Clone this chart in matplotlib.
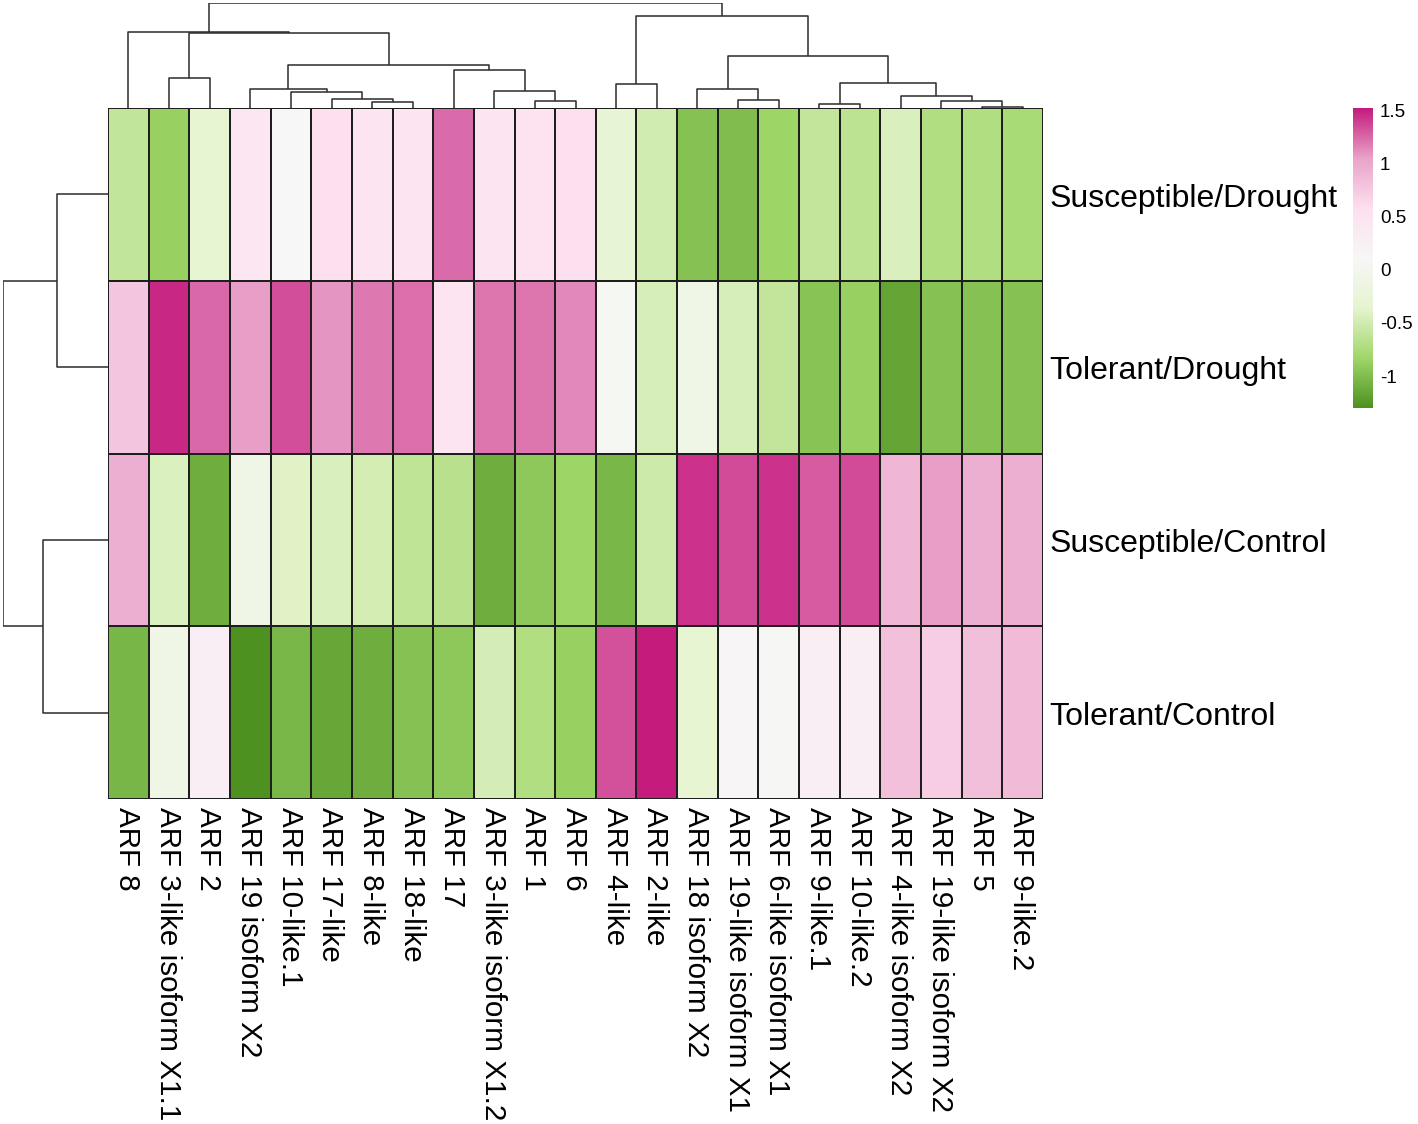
import numpy as np
import matplotlib
matplotlib.use("Agg")
import matplotlib.pyplot as plt
from matplotlib.colors import LinearSegmentedColormap

plt.rcParams['font.family'] = ['Liberation Sans', 'DejaVu Sans']

# ---------------- data ----------------
genes = ["ARF 8", "ARF 3-like isoform X1.1", "ARF 2", "ARF 19 isoform X2",
         "ARF 10-like.1", "ARF 17-like", "ARF 8-like", "ARF 18-like", "ARF 17",
         "ARF 3-like isoform X1.2", "ARF 1", "ARF 6", "ARF 4-like", "ARF 2-like",
         "ARF 18 isoform X2", "ARF 19-like isoform X1", "ARF 6-like isoform X1",
         "ARF 9-like.1", "ARF 10-like.2", "ARF 4-like isoform X2",
         "ARF 19-like isoform X2", "ARF 5", "ARF 9-like.2"]
conditions = ["Susceptible/Drought", "Tolerant/Drought",
              "Susceptible/Control", "Tolerant/Control"]

susceptible_drought = [-0.61, -0.88, -0.32, 0.45, 0.10, 0.58, 0.50, 0.50, 1.24,
                       0.50, 0.55, 0.58, -0.30, -0.50, -0.97, -1.01, -0.84,
                       -0.60, -0.64, -0.45, -0.72, -0.72, -0.78]
tolerant_drought = [0.79, 1.47, 1.25, 1.06, 1.34, 1.10, 1.20, 1.23, 0.50, 1.21,
                    1.21, 1.14, 0.05, -0.47, -0.09, -0.47, -0.60, -0.96, -0.88,
                    -1.17, -0.97, -0.97, -0.97]
susceptible_control = [0.95, -0.44, -1.11, -0.10, -0.40, -0.45, -0.49, -0.62,
                       -0.67, -1.11, -0.93, -0.84, -1.04, -0.53, 1.44, 1.35,
                       1.44, 1.29, 1.35, 0.90, 1.06, 0.95, 0.95]
tolerant_control = [-1.05, -0.10, 0.29, -1.30, -1.04, -1.15, -1.11, -0.97,
                    -0.93, -0.48, -0.72, -0.88, 1.33, 1.52, -0.33, 0.15, 0.08,
                    0.30, 0.30, 0.82, 0.72, 0.83, 0.87]

# column dendrogram merges: (child_a, child_b, height); ids >= 23 are merges
col_merges = [(21, 22, 1.3), (17, 18, 4.3), (6, 7, 6.0), (10, 11, 7.3),
              (20, 23, 7.3), (15, 16, 8.3), (5, 25, 8.7), (19, 27, 12.0),
              (4, 29, 15.7), (9, 26, 16.7), (3, 31, 19.3), (14, 28, 18.7),
              (12, 13, 24.3), (24, 30, 24.7), (1, 2, 29.7), (8, 32, 38.0),
              (33, 38, 43.3), (34, 36, 52.3), (37, 39, 74.7), (0, 41, 76.0),
              (35, 40, 92.0), (42, 43, 105.3)]
# row dendrogram merges; ids >= 4 are merges
row_merges = [(0, 1, 51.3), (2, 3, 64.7), (4, 5, 105.3)]

legend_ticks = [-1, -0.5, 0, 0.5, 1, 1.5]
legend_labels = ["-1", "-0.5", "0", "0.5", "1", "1.5"]

palette = ["#4D9221", "#A1D76A", "#E6F5D0", "#F7F7F7", "#FDE0EF", "#E9A3C9", "#C51B7D"]

# ---------------- figure ----------------
W, H = 1418, 1124
fig = plt.figure(figsize=(W / 100, H / 100), dpi=100)


def px_axes(x0, y0, x1, y1):
    return fig.add_axes([x0 / W, 1 - y1 / H, (x1 - x0) / W, (y1 - y0) / H])


mat = np.array([susceptible_drought, tolerant_drought,
                susceptible_control, tolerant_control])
cmap = LinearSegmentedColormap.from_list("piyg_rev", palette, N=256)
vmin, vmax = mat.min(), mat.max()

hm_l, hm_t, hm_r, hm_b = 108, 108, 1043, 799
ax = px_axes(hm_l, hm_t, hm_r, hm_b)
ax.pcolormesh(np.arange(len(genes) + 1), np.arange(len(conditions) + 1), mat,
              cmap=cmap, vmin=vmin, vmax=vmax, edgecolors="#1e1e1e",
              linewidth=1.4)
ax.set_xlim(0, len(genes))
ax.set_ylim(len(conditions), 0)
ax.set_xticks([])
ax.set_yticks([])
for s in ax.spines.values():
    s.set_visible(False)

for i, g in enumerate(genes):
    ax.annotate(g, xy=(i + 0.5, len(conditions)), xycoords="data",
                xytext=(-1, -5.5), textcoords="offset points",
                rotation=-90, ha="center", va="top", fontsize=21.3)
for j, c in enumerate(conditions):
    ax.annotate(c, xy=(len(genes), j + 0.5), xycoords="data",
                xytext=(4.5, -3), textcoords="offset points",
                ha="left", va="center", fontsize=23)


def dendro_coords(merges, n_leaves):
    pos = {i: i + 0.5 for i in range(n_leaves)}
    hgt = {i: 0.0 for i in range(n_leaves)}
    segs = []
    for k, (a, b, h) in enumerate(merges):
        nid = n_leaves + k
        segs.append(([pos[a], pos[a], pos[b], pos[b]], [hgt[a], h, h, hgt[b]]))
        pos[nid] = (pos[a] + pos[b]) / 2
        hgt[nid] = h
    return segs, max(m[2] for m in merges)


lc = "#2b2b2b"
# top dendrogram
axt = px_axes(hm_l, 2.7, hm_r, hm_t)
segs, top = dendro_coords(col_merges, len(genes))
for xs, ys in segs:
    axt.plot(xs, ys, color=lc, lw=1.1, solid_capstyle="butt")
axt.set_xlim(0, len(genes))
axt.set_ylim(0, top)
axt.axis("off")

# left dendrogram
axl = px_axes(2.7, hm_t, hm_l, hm_b)
segs, top = dendro_coords(row_merges, len(conditions))
for ys, xs in segs:
    axl.plot(xs, ys, color=lc, lw=1.1, solid_capstyle="butt")
axl.set_ylim(len(conditions), 0)
axl.set_xlim(top, 0)
axl.axis("off")

# colorbar
axc = px_axes(1353, 108, 1373, 408)
grad = np.linspace(vmin, vmax, 256).reshape(-1, 1)
axc.imshow(grad, cmap=cmap, vmin=vmin, vmax=vmax, aspect="auto",
           origin="lower", extent=(0, 1, vmin, vmax))
axc.set_xticks([])
axc.yaxis.tick_right()
axc.set_yticks(legend_ticks)
axc.set_yticklabels(legend_labels, fontsize=13.5)
axc.tick_params(axis="y", length=0, pad=5)
for s in axc.spines.values():
    s.set_visible(False)

fig.savefig("out.png", dpi=100)
